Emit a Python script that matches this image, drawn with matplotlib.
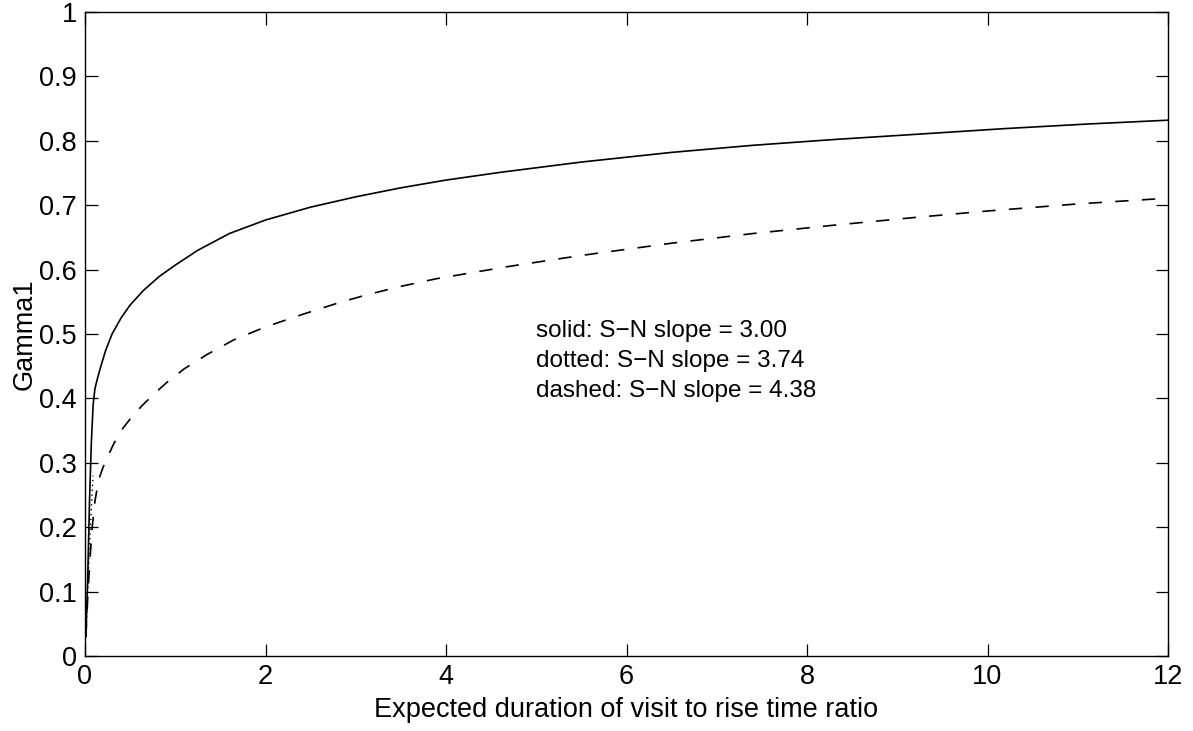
import matplotlib
matplotlib.use("Agg")
import matplotlib.pyplot as plt
from matplotlib.ticker import FormatStrFormatter, MultipleLocator

plt.rcParams['font.family'] = ['Liberation Sans', 'DejaVu Sans']

# Gamma1 vs. expected duration / rise time ratio for different S-N slopes
x_solid = [0.01, 0.03, 0.05, 0.07, 0.09, 0.11, 0.14, 0.18, 0.23, 0.30, 0.40, 0.50,
           0.65, 0.82, 1.0, 1.25, 1.6, 2.0, 2.5, 3.0, 3.5, 4.0, 4.6, 5.5, 6.5, 7.4,
           8.3, 9.2, 10.2, 11.1, 12.0]
y_solid = [0.03, 0.12, 0.24, 0.33, 0.39, 0.415, 0.432, 0.452, 0.475, 0.500, 0.525, 0.545,
           0.568, 0.589, 0.607, 0.630, 0.656, 0.677, 0.697, 0.713, 0.727, 0.739, 0.751,
           0.767, 0.782, 0.793, 0.802, 0.810, 0.819, 0.826, 0.832]

x_dotted = [0.01, 0.03, 0.05, 0.07, 0.09]
y_dotted = [0.03, 0.10, 0.17, 0.23, 0.28]

x_dashed = [0.01, 0.03, 0.05, 0.08, 0.11, 0.15, 0.20, 0.25, 0.32, 0.40, 0.50, 0.62,
            0.75, 0.90, 1.1, 1.35, 1.65, 2.0, 2.4, 2.8, 3.1, 3.5, 3.9, 4.7, 5.5, 6.5,
            7.4, 8.3, 9.2, 10.0, 11.0, 11.9]
y_dashed = [0.03, 0.09, 0.14, 0.20, 0.24, 0.273, 0.293, 0.309, 0.330, 0.350, 0.368, 0.387,
            0.405, 0.424, 0.446, 0.468, 0.491, 0.511, 0.530, 0.548, 0.560, 0.574, 0.586,
            0.605, 0.622, 0.641, 0.656, 0.669, 0.681, 0.691, 0.702, 0.710]

legend_lines = ["solid: S\u2212N slope = 3.00",
                "dotted: S\u2212N slope = 3.74",
                "dashed: S\u2212N slope = 4.38"]

fig = plt.figure(figsize=(11.93, 7.31), dpi=100)
ax = fig.add_axes([85 / 1193, 1 - 656 / 731, (1168 - 85) / 1193, (656 - 12) / 731])

ax.plot(x_solid, y_solid, color='black', lw=1.2, linestyle='-')
ax.plot(x_dotted, y_dotted, color='black', lw=1.0, linestyle=(0, (1, 2.5)))
ax.plot(x_dashed, y_dashed, color='black', lw=1.2, linestyle=(0, (8, 8)))

ax.set_xlim(0, 12)
ax.set_ylim(0, 1)
ax.xaxis.set_major_locator(MultipleLocator(2))
ax.yaxis.set_major_locator(MultipleLocator(0.1))
ax.xaxis.set_major_formatter(FormatStrFormatter('%g'))
ax.yaxis.set_major_formatter(FormatStrFormatter('%g'))

ax.tick_params(direction='in', length=9, width=0.9, top=True, right=True,
               labelsize=19.5, pad=6)
for s in ax.spines.values():
    s.set_linewidth(1.0)

ax.set_xlabel("Expected duration of visit to rise time ratio", fontsize=19.5, labelpad=5)
ax.set_ylabel("Gamma1", fontsize=19.5, labelpad=1)

for i, line in enumerate(legend_lines):
    ax.text(5.0, 0.496 - i * 0.047, line, fontsize=17.5, va='baseline', ha='left')

fig.savefig("out.png", dpi=100)
